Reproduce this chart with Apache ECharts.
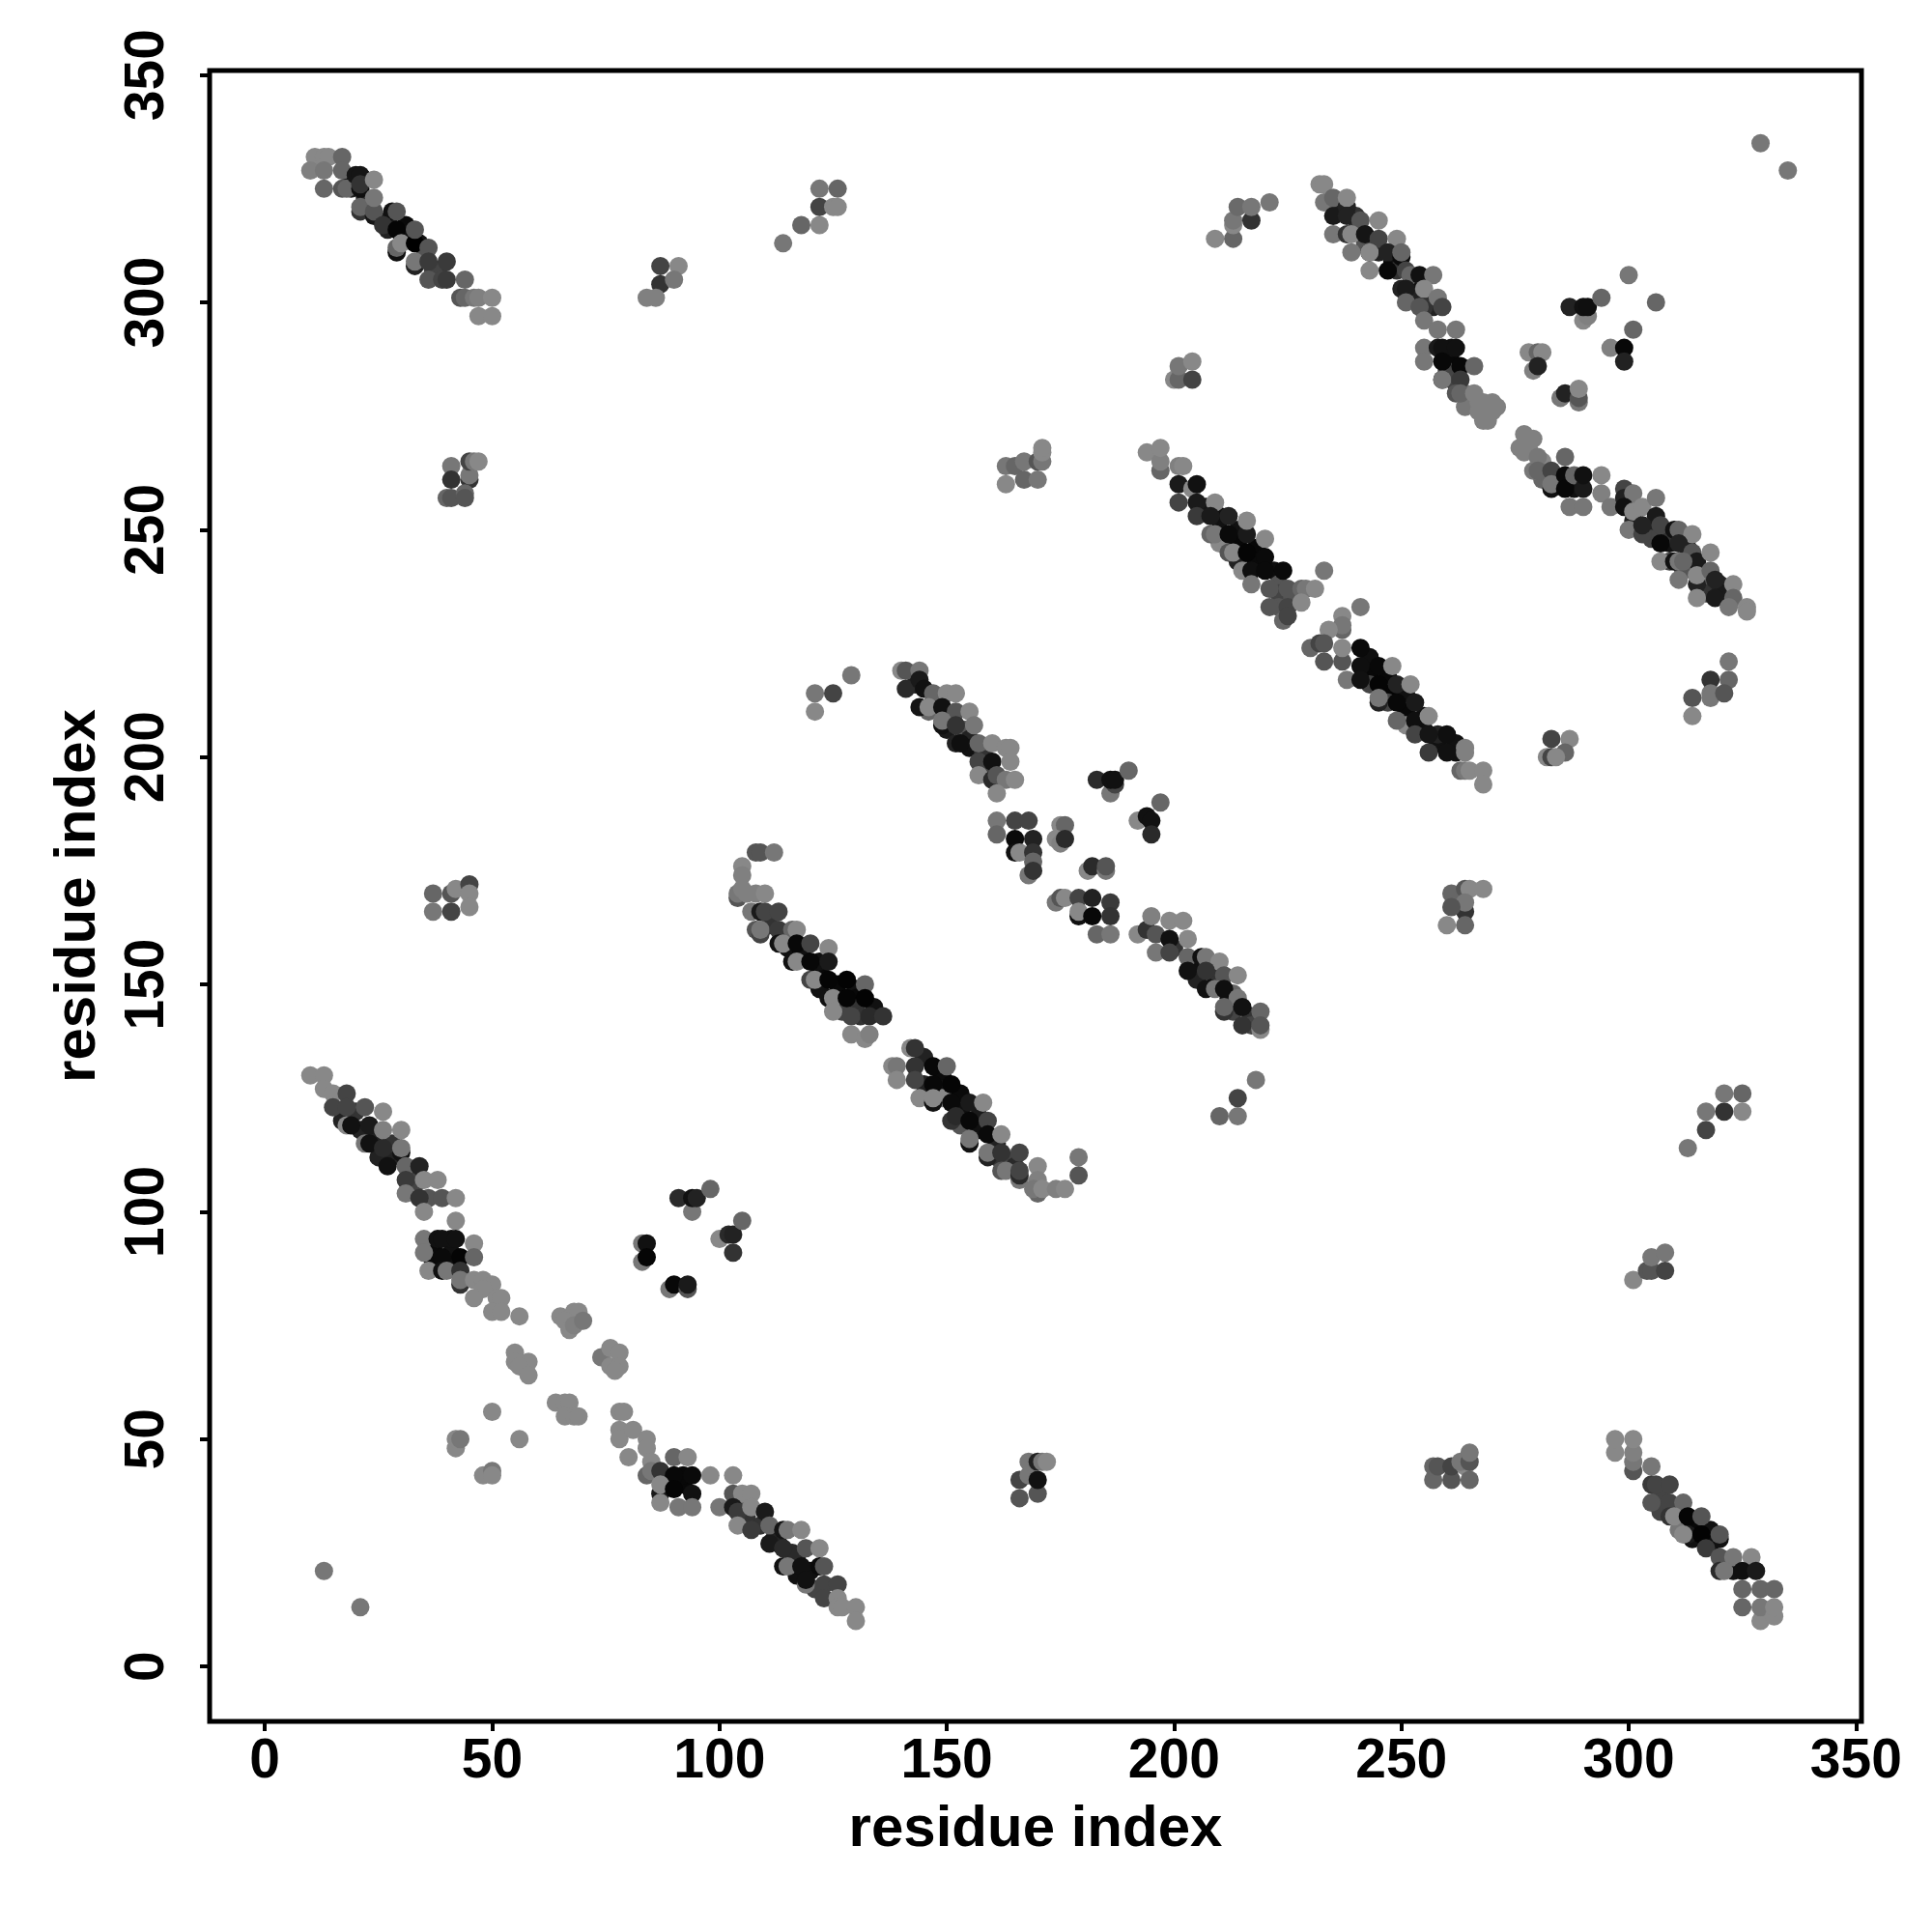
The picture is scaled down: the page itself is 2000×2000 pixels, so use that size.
<!DOCTYPE html>
<html><head><meta charset="utf-8">
<style>html,body{margin:0;background:#fff}#c{width:2000px;height:2000px}</style>
<script src="https://cdn.jsdelivr.net/npm/echarts@6/dist/echarts.min.js"></script>
</head><body><div id="c"></div>
<script>
const axisTitle = "residue index";
const tickValues = [0,50,100,150,200,250,300,350];
// each point: [residue x, residue y, grey level]
const underTopLeft = [[19,327,0x11],[22,327,0x22],[19,325,0x22],[22,323,0x22],[23,321,0x22],[27,318,0x22],[27,316,0x22],[31,317,0x0a],[31,314,0x05],[31,315,0x11],[34,313,0x11],[35,310,0x55],[38,307,0x33],[37,307,0x44]];
const underTopRight1 = [[236,320,0x22],[240,316,0x33],[240,319,0x33],[244,313,0x22],[242,313,0x55],[245,311,0x22],[248,309,0x11],[249,307,0x33],[252,304,0x22],[253,303,0x11],[253,301,0x22],[256,300,0x33],[257,299,0x22],[260,288,0x08],[261,287,0x08],[261,290,0x11],[260,285,0x44],[262,282,0x44],[264,280,0x77],[265,278,0x88],[264,277,0x77]];
const underTopRight2 = [[284,261,0x11],[288,259,0x11],[288,260,0x11],[282,262,0x77],[281,265,0x88],[281,261,0x66],[300,256,0x22],[301,252,0x22],[305,250,0x22],[305,248,0x44],[309,247,0x11],[309,249,0x33],[309,243,0x44],[313,246,0x22],[312,241,0x55],[316,241,0x22],[317,239,0x66],[317,236,0x33],[320,238,0x22],[321,236,0x1a]];
const underMidRight1 = [[207,255,0x15],[210,253,0x11],[210,250,0x11],[210,247,0x88],[214,250,0x11],[214,247,0x08],[214,243,0x22],[218,246,0x08],[218,243,0x0a],[222,241,0x0f],[223,238,0x55],[223,236,0x44],[226,235,0x55],[223,233,0x55]];
const underMidRight2 = [[243,222,0x0f],[243,218,0x08],[243,216,0x44],[247,218,0x08],[247,214,0x05],[247,212,0x44],[251,214,0x11],[251,210,0x08],[251,207,0x88],[255,209,0x11],[255,206,0x11],[258,203,0x11],[258,205,0x22],[262,201,0x11],[262,203,0x11]];
const underCentre1 = [[143,216,0x22],[147,212,0x1a],[146,210,0x66],[151,208,0x33],[150,206,0x1a],[154,206,0x55],[155,204,0x22],[155,202,0x11],[158,201,0x33],[159,197,0x2a],[158,197,0x44]];
const underCentre2 = [[200,158,0x33],[205,155,0x11],[205,151,0x22],[209,150,0x11],[209,153,0x33],[213,148,0x66],[213,144,0x44],[212,147,0x11],[217,143,0x33],[217,141,0x44]];
const underCentre3 = [[108,162,0x55],[111,163,0x33],[115,158,0x11],[118,157,0x05],[118,156,0x11],[122,153,0x08],[122,155,0x11],[122,149,0x11],[126,150,0x08],[126,148,0x08],[130,149,0x11],[130,147,0x08],[130,145,0x33],[127,144,0x44],[131,143,0x33],[134,145,0x11]];
const underCentre4 = [[145,134,0x22],[145,128,0x22],[149,130,0x0a],[149,127,0x11],[149,125,0x88],[153,126,0x0a],[153,122,0x11],[153,119,0x55],[157,121,0x1a],[157,118,0x11],[161,115,0x22],[161,112,0x33],[164,111,0x44],[165,110,0x2a]];
const underBottomLeft1 = [[17,120,0x22],[20,122,0x33],[21,118,0x22],[24,117,0x22],[25,112,0x22],[28,112,0x22],[28,115,0x33],[32,109,0x44],[33,106,0x44],[36,103,0x55],[41,91,0x11],[41,94,0x11],[37,92,0x0a],[41,88,0x11],[37,89,0x0a]];
const underBottomLeft2 = [[89,41,0x08],[92,40,0x08],[92,42,0x08],[105,36,0x55],[106,33,0x33],[109,31,0x33],[112,28,0x22],[113,27,0x22],[116,25,0x2a],[117,24,0x2a],[117,20,0x11],[120,21,0x11],[121,17,0x44]];
const underBottomRight = [[307,38,0x44],[307,34,0x44],[310,35,0x44],[311,33,0x11],[311,30,0x77],[314,32,0x11],[314,28,0x11],[315,30,0x08],[318,30,0x11],[318,27,0x11],[322,23,0x33],[323,21,0x11]];
const diagTopLeft = [[11,332,0x88],[13,332,0x88],[14,332,0x88],[17,332,0x66],[10,329,0x80],[13,329,0x77],[17,329,0x66],[13,325,0x66],[17,325,0x55],[18,325,0x66],[21,325,0x0f],[20,328,0x15],[21,328,0x15],[21,326,0x33],[24,327,0x88],[21,320,0x33],[21,321,0x66],[24,319,0x15],[24,320,0x55],[24,323,0x77],[28,320,0x11],[29,320,0x55],[26,317,0x33],[29,316,0x05],[29,311,0x0f],[29,312,0x66],[30,313,0x88],[33,313,0x00],[33,316,0x55],[33,308,0x22],[33,309,0x77],[36,312,0x55],[36,309,0x3a],[40,309,0x3a],[36,305,0x55],[39,305,0x44],[40,305,0x3a],[44,305,0x66],[43,301,0x55],[44,301,0x66],[46,301,0x77],[47,301,0x80],[50,301,0x88],[47,297,0x88],[50,297,0x88]];
const groupA = [[41,264,0x77],[41,261,0x33],[45,261,0x33],[45,262,0x77],[45,265,0x44],[46,265,0x77],[47,265,0x88],[40,257,0x66],[41,257,0x55],[44,258,0x66],[44,257,0x55]];
const groupB = [[87,308,0x44],[91,308,0x88],[87,304,0x33],[90,305,0x77],[84,301,0x80],[86,301,0x80]];
const groupC = [[114,313,0x77],[118,317,0x66],[122,317,0x88],[122,321,0x44],[122,325,0x77],[126,325,0x66],[125,321,0x88],[126,321,0x88]];
const groupD = [[209,314,0x88],[213,314,0x66],[213,317,0x88],[213,318,0x77],[214,321,0x6a],[217,318,0x33],[217,321,0x77],[221,322,0x77]];
const diagTopRight1 = [[232,326,0x88],[233,326,0x88],[233,322,0x77],[235,319,0x1a],[235,323,0x66],[238,321,0x22],[238,323,0x88],[238,319,0x22],[241,318,0x55],[245,318,0x88],[235,315,0x77],[238,315,0x33],[239,315,0x88],[239,311,0x77],[242,315,0x15],[245,314,0x44],[249,314,0x88],[243,307,0x88],[243,311,0x11],[243,311,0x88],[247,311,0x22],[250,310,0x0a],[250,311,0x66],[247,307,0x08],[251,307,0x44],[252,306,0x66],[254,306,0x11],[257,306,0x77],[250,303,0x22],[251,303,0x1a],[255,303,0x88],[251,300,0x66],[255,299,0x33],[254,299,0x55],[258,301,0x77],[259,299,0x44],[255,296,0x77],[258,294,0x77],[262,294,0x77],[255,290,0x77],[255,287,0x77],[258,290,0x1a],[259,290,0x11],[262,290,0x11],[259,287,0x08],[263,286,0x08],[266,286,0x66],[259,283,0x11],[259,283,0x77],[263,283,0x3a],[262,280,0x55],[263,280,0x66],[266,280,0x80],[267,278,0x80],[268,278,0x80],[270,278,0x80],[267,276,0x80],[268,276,0x80],[270,276,0x80],[271,277,0x80],[269,275,0x80],[268,274,0x80],[269,274,0x80]];
const diagTopRight2 = [[277,271,0x80],[279,270,0x80],[276,268,0x80],[278,268,0x80],[277,267,0x80],[280,266,0x77],[279,263,0x77],[280,263,0x66],[283,263,0x44],[286,266,0x66],[283,259,0x11],[283,260,0x77],[286,262,0x0a],[286,259,0x08],[288,262,0x66],[290,259,0x1a],[290,262,0x11],[294,262,0x88],[294,258,0x80],[287,255,0x77],[290,255,0x77],[296,255,0x77],[299,259,0x44],[299,257,0x22],[301,258,0x77],[299,255,0x11],[301,254,0x88],[303,255,0x88],[306,257,0x77],[306,253,0x1a],[300,250,0x77],[303,249,0x44],[303,251,0x22],[307,251,0x44],[307,247,0x08],[310,250,0x11],[311,250,0x66],[314,249,0x88],[311,247,0x22],[314,245,0x55],[315,243,0x1a],[318,245,0x88],[307,243,0x88],[310,243,0x11],[311,243,0x77],[312,243,0x66],[311,239,0x77],[315,238,0x22],[315,240,0x88],[318,241,0x66],[319,239,0x22],[323,238,0x88],[315,235,0x88],[319,235,0x1a],[323,235,0x66],[322,233,0x77],[326,233,0x88],[326,232,0x88]];
const groupE = [[322,221,0x77],[318,217,0x33],[322,217,0x66],[314,213,0x55],[318,214,0x77],[318,213,0x77],[321,214,0x55],[314,209,0x88]];
const groupF = [[283,204,0x44],[287,204,0x88],[282,200,0x88],[283,200,0x44],[286,201,0x66],[284,200,0x88]];
const groupG = [[287,299,0x22],[290,296,0x88],[291,297,0x80],[290,299,0x11],[291,299,0x0f],[294,301,0x66],[300,306,0x77],[306,300,0x66],[301,294,0x66],[296,290,0x80],[299,290,0x08],[299,287,0x22]];
const groupH = [[278,289,0x88],[280,289,0x66],[281,289,0x88],[279,285,0x80],[280,286,0x22],[285,279,0x77],[286,280,0x22],[289,278,0x77],[289,279,0x55],[289,281,0x88]];
const groupI = [[200,283,0x88],[201,283,0x66],[204,283,0x44],[201,286,0x77],[204,287,0x88]];
const corner = [[329,335,0x77],[335,329,0x77]];
const diagMidRight1 = [[194,267,0x88],[197,263,0x66],[197,265,0x80],[197,268,0x88],[201,264,0x80],[202,264,0x88],[201,260,0x1a],[201,256,0x44],[204,259,0x88],[205,260,0x11],[205,256,0x1a],[205,253,0x3a],[209,256,0x88],[208,253,0x1a],[212,253,0x22],[208,249,0x66],[209,249,0x77],[212,249,0x0a],[216,249,0x1a],[216,252,0x88],[220,248,0x88],[212,245,0x55],[213,245,0x88],[216,245,0x05],[220,244,0x0a],[215,241,0x88],[217,241,0x0f],[220,241,0x0a],[224,241,0x0a],[233,241,0x77],[217,238,0x77],[221,237,0x55],[225,237,0x55],[228,237,0x66],[229,237,0x77],[231,237,0x88],[221,233,0x55],[225,233,0x44],[228,234,0x88],[224,230,0x66],[225,231,0x44]];
const diagMidRight2 = [[241,233,0x77],[237,231,0x88],[237,228,0x66],[237,229,0x77],[234,228,0x88],[230,224,0x66],[232,225,0x44],[233,225,0x55],[233,221,0x55],[237,221,0x55],[237,224,0x88],[241,224,0x0a],[241,220,0x0f],[245,220,0x08],[248,220,0x88],[238,217,0x77],[241,217,0x11],[245,216,0x05],[249,216,0x22],[252,216,0x88],[245,212,0x22],[245,213,0x77],[249,212,0x08],[253,212,0x1a],[249,208,0x66],[253,208,0x0f],[256,209,0x88],[253,205,0x44],[256,205,0x15],[260,205,0x0f],[256,201,0x3a],[260,201,0x11],[264,201,0x80],[264,202,0x80],[263,197,0x66],[264,197,0x77],[265,197,0x88],[268,197,0x88],[268,194,0x88]];
const groupJ = [[261,170,0x66],[264,171,0x55],[265,171,0x88],[268,171,0x88],[264,166,0x33],[264,168,0x77],[261,167,0x55],[264,163,0x66],[260,163,0x88]];
const diagCentre1 = [[140,219,0x88],[141,219,0x55],[144,219,0x77],[141,215,0x2a],[144,217,0x1a],[145,215,0x11],[147,214,0x66],[150,214,0x88],[152,214,0x88],[144,211,0x15],[146,211,0x88],[149,211,0x11],[152,210,0x55],[155,210,0x88],[149,207,0x11],[149,208,0x77],[152,207,0x33],[156,207,0x77],[152,203,0x22],[153,203,0x0f],[157,203,0x66],[160,203,0x88],[163,202,0x88],[164,202,0x88],[157,199,0x44],[160,199,0x11],[164,199,0x88],[157,196,0x88],[160,195,0x2a],[161,196,0x55],[163,195,0x77],[165,195,0x88],[161,192,0x88]];
const groupK = [[161,186,0x77],[165,186,0x44],[168,186,0x44],[161,183,0x66],[165,182,0x0a],[169,182,0x22],[165,179,0x11],[166,179,0x88],[169,179,0x33],[169,177,0x66],[168,174,0x77],[169,175,0x33]];
const groupL = [[175,185,0x88],[176,185,0x66],[174,182,0x88],[175,181,0x80],[176,182,0x2a]];
const groupM = [[183,195,0x2a],[186,192,0x77],[187,194,0x44],[186,195,0x11],[187,195,0x11],[190,197,0x66]];
const groupN = [[192,186,0x88],[194,187,0x11],[195,186,0x11],[197,190,0x66],[195,183,0x2a]];
const groupO = [[181,175,0x88],[182,176,0x2a],[185,175,0x77],[185,176,0x55]];
const groupP = [[174,168,0x77],[175,169,0x55],[176,169,0x88],[179,169,0x44],[182,169,0x22],[186,168,0x3a],[179,165,0x11],[179,166,0x88],[182,165,0x08],[186,165,0x33],[183,161,0x66],[186,161,0x77]];
const diagCentre2 = [[192,161,0x88],[194,162,0x33],[195,165,0x80],[199,164,0x88],[202,164,0x88],[196,161,0x55],[199,160,0x11],[203,160,0x88],[196,157,0x77],[199,157,0x44],[203,156,0x66],[206,156,0x11],[207,156,0x77],[210,155,0x88],[203,153,0x11],[207,153,0x33],[211,152,0x55],[214,152,0x88],[207,149,0x11],[209,149,0x77],[211,149,0x0f],[214,147,0x77],[211,144,0x33],[211,145,0x66],[215,145,0x11],[215,141,0x33],[219,144,0x66],[219,140,0x88],[219,141,0x55]];
const groupQ = [[218,129,0x77],[214,125,0x44],[210,121,0x66],[214,121,0x77]];
const diagCentre3 = [[108,179,0x55],[109,179,0x55],[112,179,0x77],[105,176,0x88],[105,174,0x80],[104,169,0x55],[104,170,0x77],[105,171,0x80],[106,170,0x80],[108,170,0x80],[110,170,0x88],[107,166,0x77],[109,166,0x1a],[110,166,0x44],[113,166,0x44],[109,161,0x44],[109,162,0x77],[113,162,0x3a],[116,162,0x66],[117,162,0x88],[113,159,0x11],[114,159,0x88],[117,159,0x08],[120,159,0x44],[124,158,0x88],[116,155,0x11],[117,155,0x88],[120,155,0x08],[124,155,0x1a],[120,151,0x44],[121,151,0x88],[124,151,0x05],[128,151,0x03],[132,150,0x66],[124,147,0x11],[125,147,0x88],[128,147,0x05],[132,147,0x03],[125,144,0x88],[129,143,0x44],[133,143,0x2a],[136,143,0x33],[129,139,0x88],[132,138,0x88],[133,139,0x80]];
const diagCentre4 = [[142,136,0x88],[143,136,0x33],[138,132,0x88],[139,132,0x77],[143,132,0x33],[147,132,0x08],[150,132,0x66],[139,129,0x88],[143,129,0x44],[147,128,0x08],[151,128,0x05],[144,125,0x88],[147,124,0x11],[147,125,0x88],[151,124,0x0a],[155,124,0x1a],[158,124,0x88],[151,120,0x33],[152,121,0x2a],[155,120,0x08],[159,120,0x44],[155,115,0x11],[155,116,0x77],[159,117,0x0a],[162,117,0x88],[159,112,0x22],[159,113,0x77],[162,113,0x33],[166,113,0x44],[162,109,0x55],[163,109,0x77],[166,107,0x77],[166,108,0x2a],[166,109,0x44],[170,110,0x88],[170,107,0x80],[170,104,0x66],[169,105,0x77],[171,105,0x88],[174,105,0x80],[176,105,0x88],[179,112,0x77],[179,108,0x55]];
const diagBottomLeft1 = [[10,130,0x88],[13,130,0x88],[13,127,0x88],[15,126,0x88],[18,126,0x44],[15,123,0x44],[18,123,0x44],[22,123,0x55],[26,122,0x88],[18,119,0x88],[19,119,0x11],[23,119,0x1a],[26,118,0x80],[30,118,0x88],[22,115,0x77],[23,115,0x11],[26,114,0x2a],[30,113,0x11],[30,114,0x77],[27,110,0x11],[31,110,0x66],[34,110,0x22],[31,107,0x3a],[35,107,0x88],[38,107,0x88],[31,104,0x77],[34,103,0x33],[39,103,0x55],[42,103,0x88],[35,100,0x88],[42,98,0x88],[35,94,0x77],[38,94,0x11],[39,94,0x11],[42,94,0x11],[46,93,0x88],[35,91,0x77],[39,90,0x0a],[43,90,0x05],[46,90,0x66],[36,87,0x88],[39,87,0x11],[40,87,0x77],[43,87,0x33],[43,84,0x33],[43,85,0x77]];
const lightCross = [[46,85,0x88],[48,85,0x88],[50,84,0x88],[48,83,0x88],[46,81,0x88],[51,81,0x88],[52,81,0x88],[50,78,0x88],[52,78,0x88],[56,77,0x88],[65,77,0x88],[68,78,0x88],[69,78,0x88],[66,76,0x88],[67,74,0x88],[68,75,0x80],[70,76,0x77],[55,69,0x88],[55,67,0x88],[58,67,0x88],[56,66,0x88],[58,64,0x88],[74,68,0x77],[76,70,0x88],[78,69,0x88],[76,66,0x88],[78,66,0x88],[77,65,0x88],[64,58,0x88],[66,58,0x88],[67,58,0x88],[66,55,0x88],[68,55,0x88],[69,55,0x88],[50,56,0x88],[56,50,0x88],[42,48,0x88],[42,50,0x88],[43,50,0x77],[48,42,0x88],[50,43,0x77],[50,42,0x88]];
const groupR = [[91,103,0x2a],[94,100,0x77],[94,103,0x11],[95,103,0x22],[98,105,0x66],[83,93,0x77],[84,93,0x11],[83,89,0x77],[84,90,0x05],[89,83,0x77],[90,84,0x08],[93,83,0x55],[93,84,0x1a],[100,94,0x88],[102,95,0x2a],[103,95,0x22],[105,98,0x66],[103,91,0x33]];
const diagBottomLeft2 = [[78,56,0x88],[79,56,0x88],[78,52,0x88],[78,50,0x88],[81,52,0x88],[80,46,0x88],[84,50,0x88],[84,48,0x88],[85,45,0x88],[84,42,0x66],[85,43,0x77],[87,43,0x33],[90,46,0x66],[93,46,0x88],[90,42,0x08],[94,42,0x0a],[98,42,0x88],[103,42,0x88],[87,38,0x1a],[87,40,0x88],[90,39,0x05],[94,38,0x11],[87,36,0x88],[91,35,0x77],[94,35,0x77],[100,35,0x77],[103,38,0x55],[105,38,0x88],[107,38,0x88],[103,35,0x1a],[104,34,0x3a],[107,35,0x88],[104,31,0x88],[107,30,0x3a],[110,34,0x1a],[111,31,0x66],[111,27,0x1a],[114,30,0x15],[115,30,0x77],[118,30,0x88],[114,26,0x2a],[119,26,0x55],[122,26,0x88],[114,22,0x11],[115,22,0x77],[118,22,0x11],[122,22,0x0a],[123,22,0x55],[119,18,0x77],[119,19,0x11],[123,18,0x44],[126,18,0x44],[123,15,0x44],[126,15,0x88],[126,13,0x88],[127,13,0x88],[130,13,0x88],[130,10,0x88]];
const singles = [[13,21,0x77],[21,13,0x77]];
const groupS = [[257,41,0x66],[257,44,0x66],[258,44,0x55],[261,41,0x55],[261,44,0x44],[264,44,0x88],[263,45,0x77],[265,41,0x66],[265,45,0x55],[265,47,0x77]];
const groupT = [[166,37,0x55],[166,41,0x44],[168,42,0x77],[168,45,0x77],[170,38,0x55],[170,41,0x11],[170,45,0x22],[171,45,0x77],[172,45,0x88]];
const diagBottomRight = [[297,47,0x88],[297,50,0x88],[301,43,0x55],[301,45,0x77],[301,47,0x80],[301,50,0x88],[305,44,0x77],[305,40,0x3a],[306,40,0x44],[309,40,0x44],[305,36,0x55],[309,36,0x44],[312,36,0x66],[309,33,0x33],[310,33,0x88],[313,33,0x05],[316,33,0x55],[313,29,0x1a],[312,29,0x88],[316,29,0x03],[320,28,0x11],[320,29,0x55],[317,26,0x3a],[320,24,0x55],[323,24,0x77],[327,24,0x88],[320,21,0x2a],[321,21,0x77],[325,21,0x0f],[328,21,0x1a],[325,17,0x66],[329,17,0x66],[332,17,0x66],[325,13,0x66],[329,10,0x88],[329,13,0x77],[332,11,0x88],[332,13,0x88]];
const groupU = [[301,85,0x88],[304,87,0x55],[305,87,0x55],[305,90,0x77],[308,91,0x77],[308,87,0x44]];
const groupV = [[313,114,0x77],[317,118,0x44],[317,122,0x77],[321,122,0x33],[321,126,0x77],[325,126,0x66],[325,122,0x88]];
const groupW = [[37,170,0x66],[37,166,0x77],[41,170,0x55],[41,166,0x44],[42,171,0x88],[45,172,0x44],[45,170,0x88],[45,167,0x88]];
const groupX = [[163,260,0x88],[163,264,0x77],[165,264,0x66],[167,265,0x77],[167,261,0x66],[170,261,0x77],[170,265,0x55],[171,265,0x77],[171,267,0x88],[171,268,0x88]];
const groupY = [[121,210,0x88],[121,214,0x77],[125,214,0x44],[129,218,0x77]];

const points = [].concat(underTopLeft,underTopRight1,underTopRight2,underMidRight1,underMidRight2,underCentre1,underCentre2,underCentre3,underCentre4,underBottomLeft1,underBottomLeft2,underBottomRight,diagTopLeft,groupA,groupB,groupC,groupD,diagTopRight1,diagTopRight2,groupE,groupF,groupG,groupH,groupI,corner,diagMidRight1,diagMidRight2,groupJ,diagCentre1,groupK,groupL,groupM,groupN,groupO,groupP,diagCentre2,groupQ,diagCentre3,diagCentre4,diagBottomLeft1,lightCross,groupR,diagBottomLeft2,singles,groupS,groupT,diagBottomRight,groupU,groupV,groupW,groupX,groupY);

const font = "'Liberation Sans', Arial, sans-serif";
function axis(extra){
  return Object.assign({
    type:'value', name:axisTitle, nameLocation:'middle',
    nameTextStyle:{fontFamily:font,fontWeight:'bold',fontSize:60,color:'#000'},
    splitLine:{show:false}, axisLine:{show:false,onZero:false},
    axisTick:{show:true,length:10,inside:false,lineStyle:{color:'#000',width:4},customValues:tickValues},
  },extra);
}
const chart = echarts.init(document.getElementById('c'),null,{renderer:'canvas'});
chart.setOption({
  animation:false, backgroundColor:'#fff',
  grid:{left:217,top:73,width:1710,height:1709,show:true,borderColor:'#000',borderWidth:5,backgroundColor:'transparent'},
  xAxis:axis({min:-12.15,max:351.2,nameGap:82,
    axisLabel:{fontFamily:font,fontWeight:'bold',fontSize:57,color:'#000',margin:14,customValues:tickValues}}),
  yAxis:axis({min:-12.1,max:351,nameGap:106,
    axisLabel:{fontFamily:font,fontWeight:'bold',fontSize:57,color:'#000',margin:35,rotate:90,customValues:tickValues}}),
  series:[{type:'scatter',data:points,symbol:'circle',symbolSize:19,silent:true,clip:false,
    encode:{x:0,y:1},
    itemStyle:{opacity:1,color:p=>{const g=p.value[2];return 'rgb('+g+','+g+','+g+')';}}}]
});
</script></body></html>
